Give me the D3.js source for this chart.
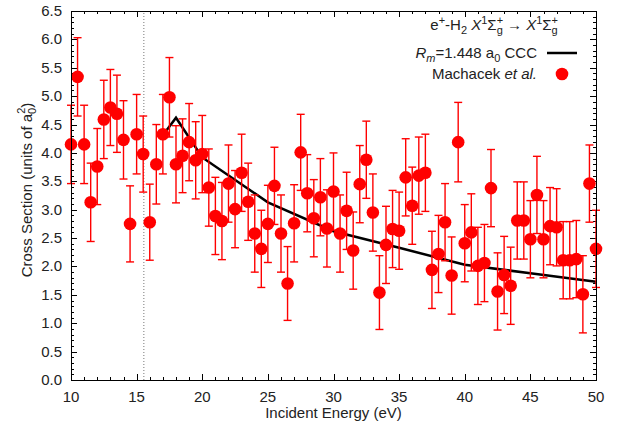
<html>
<head>
<script src="https://d3js.org/d3.v7.min.js"></script>
<style>
body { margin: 0; background: #fff; }
text { font-family: "Liberation Sans", Arial, Helvetica, sans-serif; fill: #222; }
</style>
</head>
<body>
<div id="chart"></div>
<script>

// Machacek et al. measurements (eV, units of a0^2)
var energies = [10.0, 10.5, 11.0, 11.5, 12.0, 12.5, 13.0, 13.5, 14.0, 14.5,
                15.0, 15.5, 16.0, 16.5, 17.0, 17.5, 18.0, 18.5, 19.0, 19.5,
                20.0, 20.5, 21.0, 21.5, 22.0, 22.5, 23.0, 23.5, 24.0, 24.5,
                25.0, 25.5, 26.0, 26.5, 27.0, 27.5, 28.0, 28.5, 29.0, 29.5,
                30.0, 30.5, 31.0, 31.5, 32.0, 32.5, 33.0, 33.5, 34.0, 34.5,
                35.0, 35.5, 36.0, 36.5, 37.0, 37.5, 38.0, 38.5, 39.0, 39.5,
                40.0, 40.5, 41.0, 41.5, 42.0, 42.5, 43.0, 43.5, 44.0, 44.5,
                45.0, 45.5, 46.0, 46.5, 47.0, 47.5, 48.0, 48.5, 49.0, 49.5, 50.0];
var crossSections = [4.15, 5.34, 4.15, 3.13, 3.76, 4.59, 4.80, 4.69, 4.23, 2.75,
                     4.33, 3.98, 2.78, 3.80, 4.33, 4.98, 3.80, 3.95, 4.19, 3.87,
                     3.98, 3.39, 2.89, 2.80, 3.46, 3.01, 3.65, 3.14, 2.58, 2.31,
                     2.75, 3.42, 2.58, 1.70, 2.76, 4.01, 3.29, 2.85, 3.22, 2.67,
                     3.32, 2.58, 2.98, 2.28, 3.45, 3.88, 2.95, 1.54, 2.38, 2.66,
                     2.63, 3.57, 3.07, 3.60, 3.65, 1.94, 2.22, 2.78, 1.84, 4.19,
                     2.41, 2.60, 2.01, 2.06, 3.38, 1.56, 1.85, 1.66, 2.81, 2.81,
                     2.48, 3.26, 2.48, 2.71, 2.69, 2.11, 2.11, 2.13, 1.51, 3.46, 2.31];
var errors = [0.69, 0.69, 0.69, 0.69, 0.67, 0.69, 0.67, 0.68, 0.69, 0.67,
              0.70, 0.67, 0.67, 0.70, 0.70, 0.70, 0.68, 0.65, 0.68, 0.68,
              0.68, 0.68, 0.68, 0.68, 0.68, 0.68, 0.68, 0.68, 0.68, 0.68,
              0.68, 0.68, 0.68, 0.65, 0.68, 0.67, 0.68, 0.68, 0.68, 0.68,
              0.68, 0.68, 0.68, 0.68, 0.68, 0.68, 0.68, 0.65, 0.68, 0.68,
              0.68, 0.68, 0.68, 0.68, 0.68, 0.68, 0.68, 0.68, 0.68, 0.70,
              0.68, 0.68, 0.68, 0.68, 0.68, 0.68, 0.68, 0.68, 0.68, 0.68,
              0.68, 0.68, 0.68, 0.68, 0.68, 0.68, 0.68, 0.68, 0.68, 0.68, 0.68];

// CCC calculation, Rm = 1.448 a0
var cccEnergies = [17, 18, 20, 25, 30, 35, 40, 45, 50];
var cccValues = [4.31, 4.62, 3.92, 3.13, 2.62, 2.33, 2.03, 1.88, 1.73];

var threshold = 15.55;

var xTicks = [10, 15, 20, 25, 30, 35, 40, 45, 50];
var yTicks = [0, 0.5, 1, 1.5, 2, 2.5, 3, 3.5, 4, 4.5, 5, 5.5, 6, 6.5];

var width = 628, height = 428;
var margin = { top: 11, right: 32, bottom: 48, left: 71 };

var svg = d3.select("#chart").append("svg")
            .attr("width", width)
            .attr("height", height);

var x = d3.scaleLinear().domain([10, 50]).range([margin.left, width - margin.right]);
var y = d3.scaleLinear().domain([0, 6.5]).range([height - margin.bottom, margin.top]);

// ticks on all four sides, pointing inward
var xMinor = d3.range(10, 51, 1);
var yMinor = d3.range(0, 66, 1).map(function(d) { return d / 10; });

function isMajorX(d) { return d % 5 === 0; }
function isMajorY(d) { return Math.abs(d * 2 - Math.round(d * 2)) < 1e-6; }

var ticks = svg.append("g").attr("stroke", "#000").attr("stroke-width", 1);
xMinor.forEach(function(d) {
  var len = isMajorX(d) ? 6 : 3;
  var px = Math.round(x(d)) + 0.5;
  ticks.append("line").attr("x1", px).attr("x2", px)
       .attr("y1", y(0)).attr("y2", y(0) - len);
  ticks.append("line").attr("x1", px).attr("x2", px)
       .attr("y1", y(6.5)).attr("y2", y(6.5) + len);
});
yMinor.forEach(function(d) {
  var len = isMajorY(d) ? 6 : 3;
  var py = Math.round(y(d)) + 0.5;
  ticks.append("line").attr("y1", py).attr("y2", py)
       .attr("x1", x(10)).attr("x2", x(10) + len);
  ticks.append("line").attr("y1", py).attr("y2", py)
       .attr("x1", x(50)).attr("x2", x(50) - len);
});

// tick labels
svg.selectAll(".xlab").data(xTicks).enter().append("text")
   .attr("x", function(d) { return x(d); })
   .attr("y", height - margin.bottom + 22)
   .attr("text-anchor", "middle")
   .attr("font-size", "15px")
   .text(function(d) { return d; });

svg.selectAll(".ylab").data(yTicks).enter().append("text")
   .attr("x", margin.left - 9)
   .attr("y", function(d) { return y(d) + 5; })
   .attr("text-anchor", "end")
   .attr("font-size", "15px")
   .text(function(d) { return d.toFixed(1); });

// axis titles
svg.append("text")
   .attr("x", (x(10) + x(50)) / 2)
   .attr("y", height - 10)
   .attr("text-anchor", "middle")
   .attr("font-size", "15px")
   .text("Incident Energy (eV)");

var ylab = svg.append("text")
   .attr("transform", "translate(32,190) rotate(-90)")
   .attr("text-anchor", "middle")
   .attr("font-size", "15px");
ylab.append("tspan").text("Cross Section (units of a");
ylab.append("tspan").attr("font-size", "11px").attr("dy", 4).text("0");
ylab.append("tspan").attr("font-size", "11px").attr("dx", -6).attr("dy", -11).text("2");
ylab.append("tspan").attr("dy", 7).text(")");

// ionisation threshold
svg.append("line")
   .attr("x1", x(threshold)).attr("x2", x(threshold))
   .attr("y1", y(0)).attr("y2", y(6.5))
   .attr("stroke", "#777")
   .attr("stroke-width", 1)
   .attr("stroke-dasharray", "1,2");

// CCC curve
var ccc = cccEnergies.map(function(d, i) { return [d, cccValues[i]]; });
svg.append("path")
   .datum(ccc)
   .attr("fill", "none")
   .attr("stroke", "#000")
   .attr("stroke-width", 2.5)
   .attr("d", d3.line().x(function(d) { return x(d[0]); }).y(function(d) { return y(d[1]); }));

// measurements with error bars
var pts = energies.map(function(d, i) { return { e: d, v: crossSections[i], err: errors[i] }; });

var bars = svg.append("g").attr("stroke", "#f00").attr("stroke-width", 1.4);
pts.forEach(function(d) {
  var px = x(d.e);
  bars.append("line").attr("x1", px).attr("x2", px)
      .attr("y1", y(d.v - d.err)).attr("y2", y(d.v + d.err));
  bars.append("line").attr("x1", px - 4).attr("x2", px + 4)
      .attr("y1", y(d.v - d.err)).attr("y2", y(d.v - d.err));
  bars.append("line").attr("x1", px - 4).attr("x2", px + 4)
      .attr("y1", y(d.v + d.err)).attr("y2", y(d.v + d.err));
});

svg.selectAll("circle.pt").data(pts).enter().append("circle")
   .attr("class", "pt")
   .attr("cx", function(d) { return x(d.e); })
   .attr("cy", function(d) { return y(d.v); })
   .attr("r", 6.3)
   .attr("fill", "#f00");

// frame
svg.append("rect")
   .attr("x", Math.round(x(10)) + 0.5).attr("y", Math.round(y(6.5)) + 0.5)
   .attr("width", Math.round(x(50)) - Math.round(x(10)))
   .attr("height", Math.round(y(0)) - Math.round(y(6.5)))
   .attr("fill", "none")
   .attr("stroke", "#000")
   .attr("stroke-width", 1);

// legend
var leg = svg.append("g").attr("font-size", "15px");

var l1 = leg.append("text").attr("x", 558).attr("y", 30).attr("text-anchor", "end");
l1.append("tspan").text("e");
l1.append("tspan").attr("font-size", "11px").attr("dy", -6).text("+");
l1.append("tspan").attr("dy", 6).text("-H");
l1.append("tspan").attr("font-size", "11px").attr("dy", 4).text("2");
l1.append("tspan").attr("dy", -4).text(" ");
l1.append("tspan").attr("font-style", "italic").text("X");
l1.append("tspan").attr("font-size", "11px").attr("dy", -6).text("1");
l1.append("tspan").attr("dy", 6).text("\u03A3");
l1.append("tspan").attr("font-size", "11px").attr("dy", -6).text("+");
l1.append("tspan").attr("font-size", "11px").attr("dx", -6.4).attr("dy", 10).text("g");
l1.append("tspan").attr("dy", -4).text(" \u2192 ");
l1.append("tspan").attr("font-style", "italic").text("X");
l1.append("tspan").attr("font-size", "11px").attr("dy", -6).text("1");
l1.append("tspan").attr("dy", 6).text("\u03A3");
l1.append("tspan").attr("font-size", "11px").attr("dy", -6).text("+");
l1.append("tspan").attr("font-size", "11px").attr("dx", -6.4).attr("dy", 10).text("g");

var l2 = leg.append("text").attr("x", 537).attr("y", 58).attr("text-anchor", "end");
l2.append("tspan").attr("font-style", "italic").text("R");
l2.append("tspan").attr("font-style", "italic").attr("font-size", "11px").attr("dy", 4).text("m");
l2.append("tspan").attr("dy", -4).text("=1.448 a");
l2.append("tspan").attr("font-size", "11px").attr("dy", 4).text("0");
l2.append("tspan").attr("dy", -4).text(" CCC");

leg.append("line")
   .attr("x1", 547).attr("x2", 577).attr("y1", 53).attr("y2", 53)
   .attr("stroke", "#000").attr("stroke-width", 2.5);

var l3 = leg.append("text").attr("x", 537).attr("y", 79).attr("text-anchor", "end");
l3.append("tspan").text("Machacek ");
l3.append("tspan").attr("font-style", "italic").text("et al.");

leg.append("circle").attr("cx", 562).attr("cy", 74).attr("r", 6.3).attr("fill", "#f00");

</script>
</body>
</html>
